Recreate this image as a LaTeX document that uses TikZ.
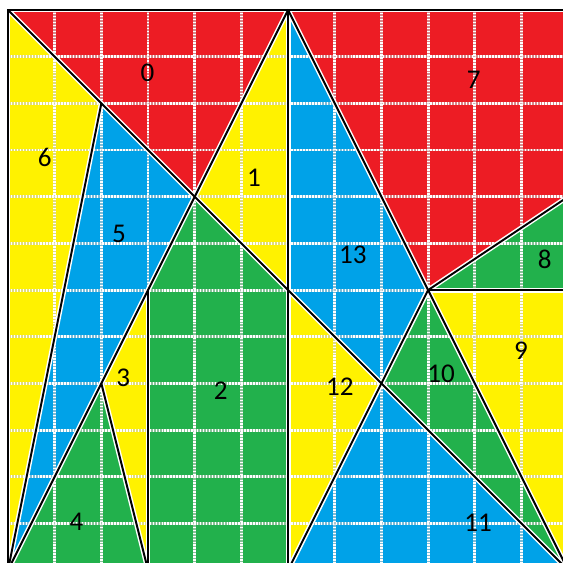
\documentclass[tikz,border=0pt]{standalone}
\usepackage{fontspec}
\setmainfont{Carlito}
\definecolor{pred}{HTML}{ED1C24}
\definecolor{pyel}{HTML}{FFF200}
\definecolor{pblue}{HTML}{00A2E8}
\definecolor{pgreen}{HTML}{22B14C}
\begin{document}
\begin{tikzpicture}[x=1cm,y=-1cm,
  lbl/.style={font=\fontsize{16.5}{18}\selectfont, inner sep=0pt, text=black},
  gridbase/.style={draw=black!20, line width=1.8pt, opacity=0.6},
  griddot/.style={draw=white, line width=1.8pt, dash pattern=on 0.9pt off 0.9pt},
  halo/.style={draw=white, line width=3pt, line cap=round},
  ink/.style={draw=black, line width=1.2pt, line cap=round, line join=miter}]
\useasboundingbox (-0.171,-0.214) rectangle (11.89,11.83);
\fill[white] (-0.171,-0.214) rectangle (11.89,11.83);
% key points
\coordinate (TL) at (0,0);
\coordinate (T6) at (6,0);
\coordinate (TR) at (12,0);
\coordinate (R4) at (12,4);
\coordinate (R6) at (12,6);
\coordinate (BR) at (12,12);
\coordinate (B6) at (6,12);
\coordinate (B3) at (3,12);
\coordinate (BL) at (0,12);
\coordinate (P22) at (2,2);
\coordinate (P44) at (4,4);
\coordinate (P66) at (6,6);
\coordinate (P88) at (8,8);
\coordinate (P36) at (3,6);
\coordinate (P28) at (2,8);
\coordinate (P96) at (9,6);
% regions
\fill[pred]   (TL) -- (T6) -- (P44) -- cycle;
\fill[pyel]   (T6) -- (P44) -- (P66) -- cycle;
\fill[pgreen] (P44) -- (P66) -- (B6) -- (B3) -- (P36) -- cycle;
\fill[pyel]   (P36) -- (P28) -- (B3) -- cycle;
\fill[pgreen] (BL) -- (P28) -- (B3) -- cycle;
\fill[pblue]  (P22) -- (P44) -- (BL) -- cycle;
\fill[pyel]   (TL) -- (P22) -- (BL) -- cycle;
\fill[pred]   (T6) -- (TR) -- (R4) -- (P96) -- cycle;
\fill[pgreen] (P96) -- (R4) -- (R6) -- cycle;
\fill[pyel]   (P96) -- (R6) -- (BR) -- cycle;
\fill[pgreen] (P96) -- (BR) -- (P88) -- cycle;
\fill[pblue]  (P88) -- (BR) -- (B6) -- cycle;
\fill[pyel]   (P66) -- (P88) -- (B6) -- cycle;
\fill[pblue]  (T6) -- (P96) -- (P88) -- (P66) -- cycle;
% grid
\foreach \i in {1,...,11} {
  \draw[gridbase] (\i,0) -- (\i,12);
  \draw[gridbase] (0,\i) -- (12,\i);
  \draw[griddot] (\i,0) -- (\i,12);
  \draw[griddot] (0,\i) -- (12,\i);
}
% edges
\foreach \s in {halo,ink} {
  \draw[\s] (BL) -- (TL) -- (TR);
  \foreach \a/\b in {TL/BR, P22/BL, T6/BL, T6/B6, T6/BR, P96/B6, P96/R6, P96/R4, P36/B3, P28/B3} {
    \draw[\s] (\a) -- (\b);
  }
}
% labels
\node[lbl] (l0)  at (2.99,1.34)  {0};
\node[lbl] (l1)  at (5.27,3.60)  {1};
\node[lbl] (l2)  at (4.56,8.16)  {2};
\node[lbl] (l3)  at (2.47,7.89)  {3};
\node[lbl] (l4)  at (1.47,10.97) {4};
\node[lbl] (l5)  at (2.38,4.80)  {5};
\node[lbl] (l6)  at (0.79,3.15)  {6};
\node[lbl] (l7)  at (9.98,1.50)  {7};
\node[lbl] (l8)  at (11.50,5.34) {8};
\node[lbl] (l9)  at (10.99,7.31) {9};
\node[lbl] (l10) at (9.28,7.80)  {10};
\node[lbl] (l11) at (10.07,10.99) {11};
\node[lbl] (l12) at (7.11,8.08)  {12};
\node[lbl] (l13) at (7.39,5.25)  {13};
\end{tikzpicture}
\end{document}
